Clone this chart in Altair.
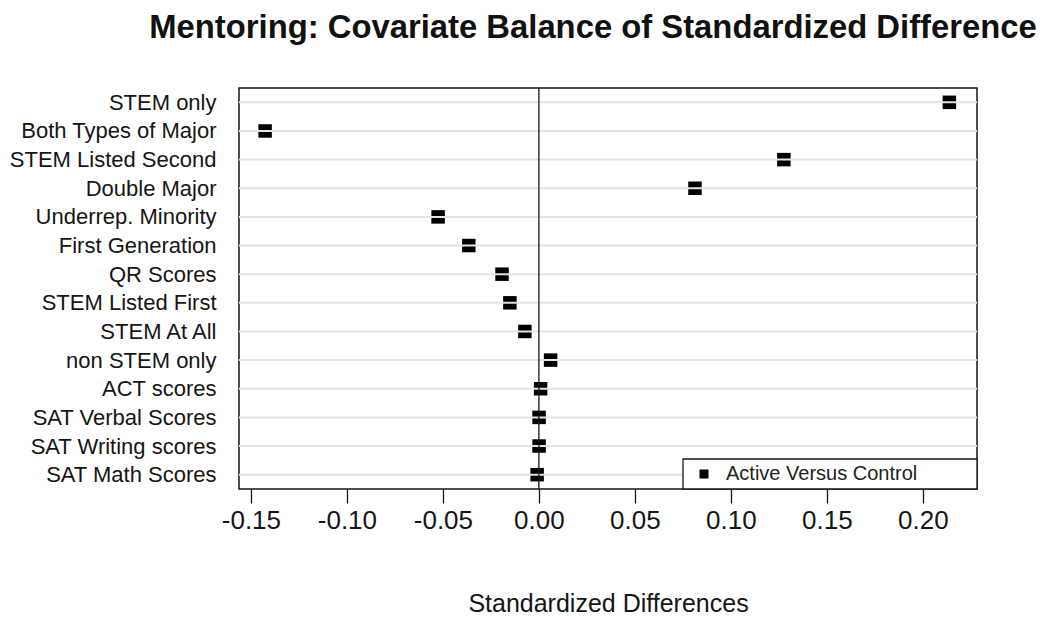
import altair as alt
import pandas as pd

covariates = [
    "STEM only", "Both Types of Major", "STEM Listed Second", "Double Major",
    "Underrep. Minority", "First Generation", "QR Scores", "STEM Listed First",
    "STEM At All", "non STEM only", "ACT scores", "SAT Verbal Scores",
    "SAT Writing scores", "SAT Math Scores",
]
std_diff = [
    0.2138, -0.1426, 0.1276, 0.0813,
    -0.0525, -0.0365, -0.0192, -0.0151,
    -0.0073, 0.0061, 0.0009, 0.0001,
    0.0001, -0.0009,
]
series_name = "Active Versus Control"
x_ticks = [-0.15, -0.10, -0.05, 0.00, 0.05, 0.10, 0.15, 0.20]
x_domain = [-0.1562, 0.2282]

W, H = 738, 401

df = pd.DataFrame({
    "covariate": covariates,
    "diff": std_diff,
    "group": [series_name] * len(covariates),
})

FONT = "Liberation Sans"
TXT = "#151515"

x_enc = alt.X(
    "diff:Q",
    scale=alt.Scale(domain=x_domain, nice=False, zero=False),
    axis=alt.Axis(
        values=x_ticks,
        labelExpr="replace(format(datum.value, '.2f'), '\u2212', '-')",
        title="Standardized Differences",
        grid=False, domain=False, ticks=True, tickSize=14, tickWidth=1.3,
        tickColor=TXT, labelFont=FONT, labelFontSize=26,
        labelColor=TXT, labelPadding=4, labelFlush=False,
        titleFont=FONT, titleFontSize=25, titleFontWeight="normal",
        titleColor=TXT, titlePadding=58,
    ),
)
y_enc = alt.Y(
    "covariate:N",
    sort=covariates,
    scale=alt.Scale(type="point", padding=0.5),
    axis=alt.Axis(
        title=None, grid=False, domain=False, ticks=False,
        labelFont=FONT, labelFontSize=22, labelColor=TXT,
        labelPadding=23, labelLimit=400,
    ),
)

base = alt.Chart(df)

points = base.mark_point(shape="square", filled=True, size=182, opacity=1).encode(
    x=x_enc,
    y=y_enc,
    color=alt.Color(
        "group:N",
        scale=alt.Scale(range=["#000000"]),
        legend=alt.Legend(
            title=None, orient="none", legendX=444, legendY=371,
            strokeColor="transparent", padding=5,
            symbolType="square", symbolSize=81, symbolStrokeWidth=0,
            symbolOffset=6, labelOffset=12, labelFont=FONT,
            labelFontSize=20, labelColor="#222222", labelLimit=500,
        ),
    ),
)

grid = base.mark_rule(color="#e4e4e4", strokeWidth=2).encode(
    y=alt.Y("covariate:N", sort=covariates)
)

zero = base.mark_rule(color=TXT, strokeWidth=1.3).encode(
    x=alt.datum(0)
).transform_filter("datum.covariate == 'STEM only'")

legend_box = base.mark_rect(fill="white", stroke=TXT, strokeWidth=1.3).encode(
    x=alt.value(444), x2=alt.value(W), y=alt.value(371), y2=alt.value(H)
).transform_filter("datum.covariate == 'STEM only'")

chart = alt.layer(points, grid, zero, legend_box).properties(
    width=W,
    height=H,
    background="white",
    autosize=alt.AutoSizeParams(type="none"),
    padding={"left": 239, "top": 88, "right": 71, "bottom": 131},
    title=alt.TitleParams(
        "Mentoring: Covariate Balance of Standardized Difference",
        font=FONT, fontSize=32.8, fontWeight="bold", color="#111111",
        anchor="middle", dx=-15, offset=43,
    ),
).configure_view(
    stroke=TXT, strokeWidth=1.5
)

chart.save("out.html", embed_options={"renderer": "svg", "actions": False})
